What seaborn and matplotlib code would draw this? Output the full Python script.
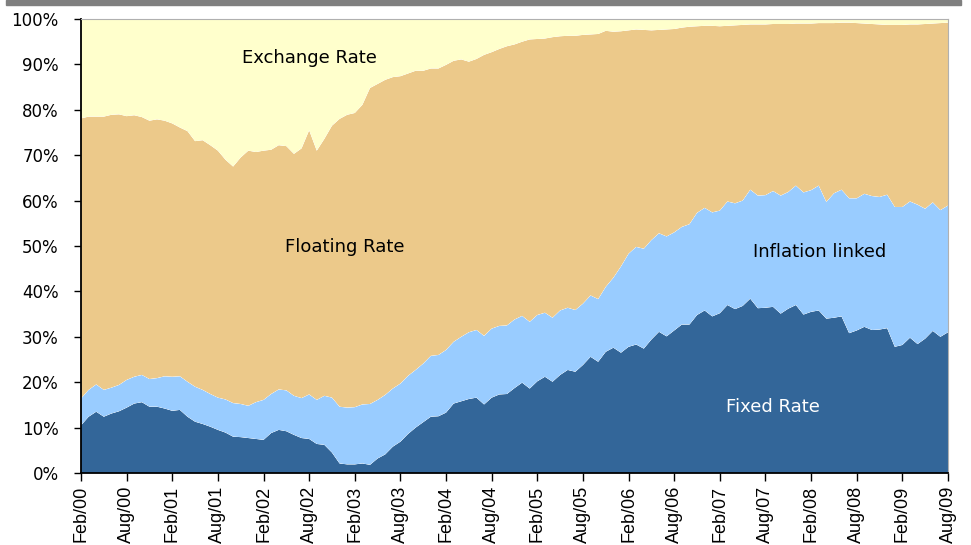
import numpy as np
import pandas as pd
import matplotlib
matplotlib.use("Agg")
import matplotlib.pyplot as plt
from matplotlib.patches import Rectangle
import seaborn as sns
import seaborn.objects as so

# ---- data (share of debt, %, monthly Feb/00 .. Aug/09) ----
fixed_rate = [
    10.5, 12.4, 13.5, 12.4, 13.1, 13.6, 14.4, 15.3, 15.6, 14.6, 14.6, 14.2, 13.7, 13.9, 12.4, 11.3,
    10.8, 10.2, 9.5, 8.9, 8.0, 7.9, 7.7, 7.5, 7.3, 8.8, 9.5, 9.2, 8.4, 7.7, 7.5, 6.4,
    6.2, 4.5, 2.1, 1.9, 1.9, 2.1, 1.8, 3.2, 4.1, 5.8, 6.9, 8.6, 10.0, 11.2, 12.4, 12.5,
    13.3, 15.3, 15.8, 16.3, 16.6, 15.1, 16.6, 17.3, 17.4, 18.7, 19.9, 18.6, 20.2, 21.2, 20.1, 21.6,
    22.7, 22.3, 23.8, 25.6, 24.5, 26.7, 27.6, 26.5, 27.8, 28.3, 27.4, 29.4, 31.1, 30.1, 31.4, 32.7,
    32.7, 34.8, 35.8, 34.5, 35.2, 37.0, 36.1, 36.8, 38.4, 36.3, 36.4, 36.6, 35.1, 36.2, 37.0, 34.9,
    35.5, 35.8, 34.0, 34.2, 34.5, 30.8, 31.4, 32.2, 31.5, 31.6, 31.9, 27.8, 28.2, 29.8, 28.4, 29.6,
    31.3, 30.0, 31.0,
]
inflation_linked = [
    5.9, 5.9, 6.0, 5.9, 5.7, 5.8, 6.1, 5.9, 6.0, 6.1, 6.3, 7.1, 7.5, 7.4, 7.7, 7.7,
    7.5, 7.2, 7.1, 7.3, 7.4, 7.3, 7.1, 8.1, 8.8, 8.6, 8.9, 9.0, 8.6, 8.8, 9.8, 9.7,
    10.8, 12.1, 12.5, 12.5, 12.6, 13.0, 13.4, 12.9, 13.1, 12.8, 12.8, 12.8, 12.7, 12.9, 13.4, 13.5,
    13.8, 13.6, 14.2, 14.7, 14.9, 15.1, 15.2, 15.1, 15.1, 15.1, 14.7, 14.7, 14.6, 14.1, 14.1, 14.2,
    13.7, 13.6, 13.5, 13.5, 13.8, 14.3, 15.4, 19.0, 20.5, 21.5, 22.0, 21.9, 21.7, 22.0, 21.6, 21.5,
    22.1, 22.5, 22.6, 22.9, 22.6, 22.8, 23.3, 23.2, 24.0, 24.8, 24.8, 25.5, 26.0, 25.7, 26.3, 26.9,
    26.8, 27.5, 25.7, 27.4, 27.9, 29.7, 29.1, 29.3, 29.5, 29.2, 29.4, 30.8, 30.4, 30.0, 30.7, 28.6,
    28.3, 27.9, 27.9,
]
floating_rate = [
    61.7, 60.2, 59.0, 60.2, 60.1, 59.6, 58.1, 57.6, 56.8, 56.9, 57.0, 56.3, 55.8, 54.8, 55.2, 54.1,
    55.0, 54.8, 54.4, 52.8, 52.1, 54.3, 56.2, 55.1, 54.9, 53.8, 53.8, 53.8, 53.3, 55.0, 58.2, 54.9,
    56.6, 59.9, 63.4, 64.5, 64.8, 66.0, 69.6, 69.6, 69.4, 68.6, 67.7, 66.6, 65.9, 64.5, 63.3, 63.1,
    62.8, 61.9, 61.1, 59.6, 59.7, 61.9, 60.9, 61.0, 61.5, 60.6, 60.4, 62.2, 60.8, 60.4, 61.8, 60.4,
    59.9, 60.4, 59.2, 57.5, 58.4, 56.4, 54.2, 51.8, 49.2, 47.9, 48.2, 46.2, 44.8, 45.6, 44.8, 43.9,
    43.5, 41.1, 40.1, 41.1, 40.6, 38.7, 39.2, 38.7, 36.4, 37.7, 37.6, 36.8, 37.8, 37.0, 35.7, 37.2,
    36.7, 35.8, 39.4, 37.5, 36.8, 38.7, 38.6, 37.5, 37.9, 38.0, 37.4, 40.1, 40.1, 39.0, 39.7, 40.7,
    39.4, 41.2, 40.3,
]
exchange_rate = [
    21.9, 21.5, 21.5, 21.5, 21.1, 21.0, 21.4, 21.2, 21.6, 22.4, 22.1, 22.4, 23.0, 23.9, 24.7, 26.9,
    26.7, 27.8, 29.0, 31.0, 32.5, 30.5, 29.0, 29.3, 29.0, 28.8, 27.8, 28.0, 29.7, 28.5, 24.5, 29.0,
    26.4, 23.5, 22.0, 21.1, 20.7, 18.9, 15.2, 14.3, 13.4, 12.8, 12.6, 12.0, 11.4, 11.4, 10.9, 10.9,
    10.1, 9.2, 8.9, 9.4, 8.8, 7.9, 7.3, 6.6, 6.0, 5.6, 5.0, 4.5, 4.4, 4.3, 4.0, 3.8,
    3.7, 3.7, 3.5, 3.4, 3.3, 2.6, 2.8, 2.7, 2.5, 2.3, 2.4, 2.5, 2.4, 2.3, 2.2, 1.9,
    1.7, 1.6, 1.5, 1.5, 1.6, 1.5, 1.4, 1.3, 1.2, 1.2, 1.2, 1.1, 1.1, 1.1, 1.0, 1.0,
    1.0, 0.9, 0.9, 0.9, 0.8, 0.8, 0.9, 1.0, 1.1, 1.2, 1.3, 1.3, 1.3, 1.2, 1.2, 1.1,
    1.0, 0.9, 0.8,
]
series_names = ["Fixed Rate", "Inflation linked", "Floating Rate", "Exchange Rate"]
series_colors = ["#336699", "#99CCFF", "#ECC98A", "#FFFFCC"]
tick_labels = ["Feb/00", "Aug/00", "Feb/01", "Aug/01", "Feb/02", "Aug/02", "Feb/03",
               "Aug/03", "Feb/04", "Aug/04", "Feb/05", "Aug/05", "Feb/06", "Aug/06",
               "Feb/07", "Aug/07", "Feb/08", "Aug/08", "Feb/09", "Aug/09"]
y_ticks = [0, 10, 20, 30, 40, 50, 60, 70, 80, 90, 100]

n = len(fixed_rate)
months = np.arange(n)
frames = []
for name, vals in zip(series_names,
                      [fixed_rate, inflation_linked, floating_rate, exchange_rate]):
    frames.append(pd.DataFrame({"month": months, "share": vals, "type": name}))
df = pd.concat(frames, ignore_index=True)

sns.set_theme(style="white")
plt.rcParams["font.family"] = ["DejaVu Sans"]

fig = plt.figure(figsize=(9.71, 5.45), dpi=100)
ax = fig.add_axes([81 / 971, 1 - 473 / 545, 867 / 971, 454 / 545])

(
    so.Plot(df, x="month", y="share", color="type")
    .add(so.Area(alpha=1, edgewidth=0), so.Stack(), legend=False)
    .scale(color=so.Nominal(dict(zip(series_names, series_colors)), order=series_names))
    .on(ax)
    .plot()
)

ax.set_facecolor("white")
ax.grid(False)
ax.set_xlim(0, n - 1)
ax.set_ylim(0, 100)
ax.set_xlabel("")
ax.set_ylabel("")

ax.set_yticks(y_ticks)
ax.set_yticklabels([f"{v}%" for v in y_ticks], fontsize=12, color="black")
ax.set_xticks(np.arange(0, n, 6))
ax.set_xticklabels(tick_labels, rotation=90, fontsize=13, family="Liberation Sans",
                   color="black")
ax.tick_params(axis="y", which="major", direction="out", length=5, width=1,
               color="black", pad=11, left=True)
ax.tick_params(axis="x", which="major", direction="out", length=6, width=1,
               color="black", pad=3, bottom=True)

for side in ["left", "bottom"]:
    ax.spines[side].set_visible(True)
    ax.spines[side].set_color("black")
    ax.spines[side].set_linewidth(1.3)
for side in ["top", "right"]:
    ax.spines[side].set_visible(True)
    ax.spines[side].set_color("#b0b0b0")
    ax.spines[side].set_linewidth(0.8)

ax.text(30.0, 91.5, "Exchange Rate", fontsize=13, ha="center", va="center", color="black")
ax.text(34.7, 49.7, "Floating Rate", fontsize=13, ha="center", va="center", color="black")
ax.text(97.1, 48.6, "Inflation linked", fontsize=13, ha="center", va="center", color="black")
ax.text(91.0, 14.5, "Fixed Rate", fontsize=13, ha="center", va="center", color="white")

fig.patches.append(Rectangle((6 / 971, 1 - 5 / 545), (961 - 6) / 971, 5 / 545,
                             transform=fig.transFigure, color="#7f7f7f", zorder=5))

fig.savefig("out.png", dpi=100, facecolor="white")
